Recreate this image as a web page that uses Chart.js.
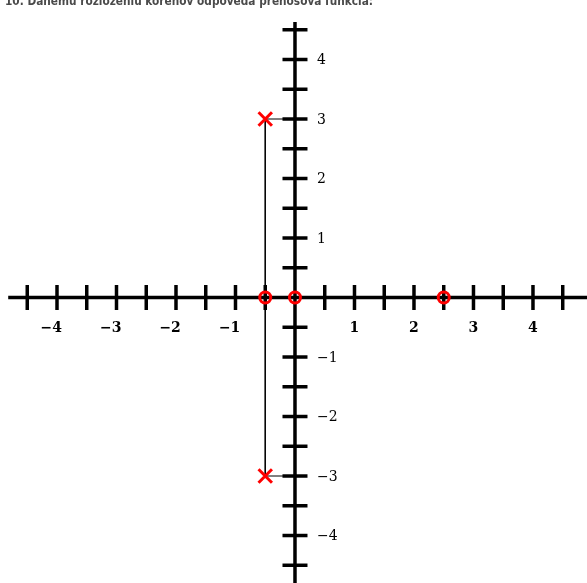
<!DOCTYPE html>
<html>
<head>
<meta charset="utf-8">
<script src="https://cdn.jsdelivr.net/npm/chart.js@4/dist/chart.umd.min.js"></script>
<style>
  html, body { margin: 0; padding: 0; background: #fff; }
  canvas { display: block; }
</style>
</head>
<body>
<canvas id="rootChart" width="587" height="583"></canvas>
<script>
const heading = '10. Danému rozloženiu koreňov odpovedá prenosová funkcia:';

// poles (x) and zeros (o) in the complex plane
const poleRe = [-0.5, -0.5];
const poleIm = [3, -3];
const zeroRe = [-0.5, 0, 2.5];
const zeroIm = [0, 0, 0];

// axis ticks every half unit, labels on whole numbers
const tickStep = 0.5;
const tickMax = 4.5;
const axisLabels = [-4, -3, -2, -1, 1, 2, 3, 4];

const ink = '#000';
const red = '#ff0000';

// thin guide from the imaginary axis to both poles
const guide = [
  { x: 0, y: poleIm[0] },
  { x: poleRe[0], y: poleIm[0] },
  { x: poleRe[1], y: poleIm[1] },
  { x: 0, y: poleIm[1] }
];

const zeros = zeroRe.map((re, i) => ({ x: re, y: zeroIm[i] }));
const poles = poleRe.map((re, i) => ({ x: re, y: poleIm[i] }));

const crossAxes = {
  id: 'crossAxes',
  beforeDatasetsDraw(chart) {
    const ctx = chart.ctx;
    const sx = chart.scales.x;
    const sy = chart.scales.y;
    const x0 = sx.getPixelForValue(0);
    const y0 = sy.getPixelForValue(0);

    ctx.save();
    ctx.strokeStyle = ink;
    ctx.lineWidth = 3.5;
    ctx.lineCap = 'butt';

    // real axis
    ctx.beginPath();
    ctx.moveTo(sx.getPixelForValue(-4.82), y0);
    ctx.lineTo(sx.right, y0);
    ctx.stroke();

    // imaginary axis
    ctx.beginPath();
    ctx.moveTo(x0, sy.getPixelForValue(4.63));
    ctx.lineTo(x0, sy.bottom);
    ctx.stroke();

    const half = 12.5;
    for (let v = -tickMax; v <= tickMax + 1e-9; v += tickStep) {
      if (Math.abs(v) < 1e-9) continue;
      const px = sx.getPixelForValue(v);
      ctx.beginPath();
      ctx.moveTo(px, y0 - half);
      ctx.lineTo(px, y0 + half);
      ctx.stroke();
      const py = sy.getPixelForValue(v);
      ctx.beginPath();
      ctx.moveTo(x0 - half, py);
      ctx.lineTo(x0 + half, py);
      ctx.stroke();
    }

    ctx.fillStyle = ink;
    ctx.textBaseline = 'middle';
    axisLabels.forEach(v => {
      const digits = String(Math.abs(v));
      const text = (v < 0 ? '\u2212' : '') + digits;
      ctx.font = 'bold 14px "DejaVu Serif"';
      const dw = ctx.measureText(digits).width;
      const px = sx.getPixelForValue(v);
      ctx.textAlign = 'right';
      ctx.fillText(text, px + dw / 2, y0 + 31);
      ctx.font = '14px "DejaVu Serif"';
      ctx.textAlign = 'left';
      ctx.fillText(text, x0 + 22, sy.getPixelForValue(v) + 1);
    });
    ctx.restore();
  },
  afterDraw(chart) {
    const ctx = chart.ctx;
    ctx.save();
    ctx.fillStyle = '#4a4a4a';
    ctx.font = 'bold 13px "DejaVu Sans"';
    ctx.textAlign = 'left';
    ctx.textBaseline = 'alphabetic';
    ctx.fillText(heading, 5, 5, 368);
    ctx.restore();
  }
};

new Chart(document.getElementById('rootChart'), {
  type: 'scatter',
  data: {
    datasets: [
      {
        data: guide,
        showLine: true,
        borderColor: ink,
        borderWidth: 1,
        pointRadius: 0,
        order: 3
      },
      {
        data: zeros,
        pointStyle: 'circle',
        pointRadius: 5.5,
        borderColor: red,
        borderWidth: 3,
        backgroundColor: 'rgba(0,0,0,0)',
        order: 2
      },
      {
        data: poles,
        pointStyle: 'crossRot',
        pointRadius: 9.5,
        borderColor: red,
        borderWidth: 3,
        order: 1
      }
    ]
  },
  options: {
    responsive: false,
    animation: false,
    layout: { padding: 0, autoPadding: false },
    plugins: {
      legend: { display: false },
      tooltip: { enabled: false }
    },
    scales: {
      x: { type: 'linear', min: -4.958, max: 4.908, display: false },
      y: { type: 'linear', min: -4.798, max: 5.0, display: false }
    }
  },
  plugins: [crossAxes]
});
</script>
</body>
</html>
